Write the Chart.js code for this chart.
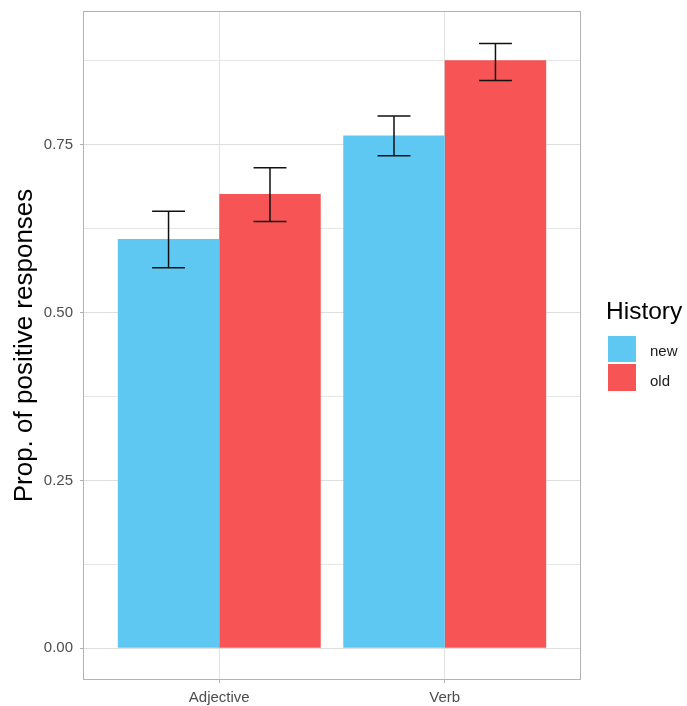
<!DOCTYPE html>
<html>
<head>
<meta charset="utf-8">
<script src="https://cdn.jsdelivr.net/npm/chart.js@4/dist/chart.umd.min.js"></script>
<style>
  html, body { margin: 0; padding: 0; background: #ffffff; }
  #wrap { position: relative; width: 687px; height: 706px; font-family: "Liberation Sans", Arial, sans-serif; }
  #chart { position: absolute; left: 0; top: 0; }
  .legend-title { position: absolute; left: 606px; top: 299px; font-size: 24.5px; line-height: 24.5px; color: #000; white-space: nowrap; }
  .legend-key { position: absolute; left: 608px; width: 28px; }
  .legend-label { position: absolute; left: 650px; font-size: 15px; line-height: 15px; color: #1a1a1a; white-space: nowrap; }
</style>
</head>
<body>
<div id="wrap">
  <canvas id="chart" width="687" height="706"></canvas>
  <div id="legend"></div>
</div>
<script>
// Word class on the x axis, response history as the two bar series
const categories = ['Adjective', 'Verb'];
const seriesNames = ['new', 'old'];
const seriesColors = ['#5ec8f2', '#f75555'];

// Mean proportion of positive responses
const newValues = [0.610, 0.764];
const oldValues = [0.677, 0.876];

// Error bar limits
const newLow  = [0.567, 0.734];
const newHigh = [0.651, 0.793];
const oldLow  = [0.636, 0.846];
const oldHigh = [0.716, 0.901];

// Y axis tick labels (major breaks)
const yTickLabels = ['0.00', '0.25', '0.50', '0.75'];

const lows = [newLow, oldLow];
const highs = [newHigh, oldHigh];
const values = [newValues, oldValues];

const isMajor = v => Math.abs(v / 0.25 - Math.round(v / 0.25)) < 1e-6;

const errorBars = {
  id: 'errorBars',
  afterDatasetsDraw(chart) {
    const ctx = chart.ctx;
    const xs = chart.scales.x, ys = chart.scales.y;
    const half = xs.getPixelForValue(1.073) - xs.getPixelForValue(1);
    ctx.save();
    ctx.strokeStyle = '#111111';
    ctx.lineWidth = 1.5;
    chart.data.datasets.forEach((ds, d) => {
      const meta = chart.getDatasetMeta(d);
      meta.data.forEach((bar, i) => {
        const x = bar.x;
        const yl = ys.getPixelForValue(lows[d][i]);
        const yh = ys.getPixelForValue(highs[d][i]);
        ctx.beginPath();
        ctx.moveTo(x, yl); ctx.lineTo(x, yh);
        ctx.moveTo(x - half, yl); ctx.lineTo(x + half, yl);
        ctx.moveTo(x - half, yh); ctx.lineTo(x + half, yh);
        ctx.stroke();
      });
    });
    ctx.restore();
  }
};

const panelBorder = {
  id: 'panelBorder',
  afterDatasetsDraw(chart) {
    const {left, top, right, bottom} = chart.chartArea;
    const ctx = chart.ctx;
    ctx.save();
    ctx.strokeStyle = '#b3b3b3';
    ctx.lineWidth = 1;
    ctx.strokeRect(Math.round(left) - 0.5, Math.round(top) - 0.5, Math.round(right - left) + 1, Math.round(bottom - top) + 1);
    ctx.restore();
  }
};

new Chart(document.getElementById('chart'), {
  type: 'bar',
  data: {
    datasets: seriesNames.map((name, d) => ({
      label: name,
      data: values[d].map((v, i) => ({x: i + 1, y: v})),
      backgroundColor: seriesColors[d],
      borderWidth: 0,
      categoryPercentage: 0.9,
      barPercentage: 1.0
    }))
  },
  options: {
    responsive: false,
    animation: false,
    layout: { padding: { top: 12, right: 107, left: 0, bottom: 0 } },
    plugins: { legend: { display: false }, tooltip: { enabled: false } },
    scales: {
      x: {
        type: 'linear',
        min: 0.4,
        max: 2.6,
        offset: false,
        afterBuildTicks: s => { s.ticks = categories.map((c, i) => ({value: i + 1})); },
        afterFit: s => { s.height = 27; s.paddingLeft = 0; s.paddingRight = 0; },
        ticks: {
          autoSkip: false,
          maxRotation: 0,
          padding: 6,
          color: '#4d4d4d',
          font: { family: '"Liberation Sans", Arial, sans-serif', size: 15 },
          callback: v => categories[Math.round(v) - 1]
        },
        grid: { offset: false, color: '#e0e0e0', lineWidth: 1, tickLength: 4, tickColor: '#b3b3b3' },
        border: { display: false }
      },
      y: {
        type: 'linear',
        min: -0.0457,
        max: 0.948,
        afterFit: s => { s.width = 84; s.paddingTop = 0; s.paddingBottom = 0; },
        ticks: {
          stepSize: 0.125,
          includeBounds: false,
          padding: 7,
          color: '#4d4d4d',
          font: { family: '"Liberation Sans", Arial, sans-serif', size: 15 },
          callback: v => isMajor(v) ? yTickLabels[Math.round(v / 0.25)] : ''
        },
        grid: {
          color: ctx => ctx.tick && isMajor(ctx.tick.value) ? '#dedede' : '#e6e6e6',
          lineWidth: 1,
          tickLength: 4,
          tickColor: ctx => ctx.tick && isMajor(ctx.tick.value) ? '#b3b3b3' : 'rgba(0,0,0,0)'
        },
        border: { display: false },
        title: {
          display: true,
          text: 'Prop. of positive responses',
          color: '#000000',
          font: { family: '"Liberation Sans", Arial, sans-serif', size: 26 },
          padding: { top: 9, bottom: 0 }
        }
      }
    }
  },
  plugins: [errorBars, panelBorder]
});

// Legend for the History fill
const legend = document.getElementById('legend');
const title = document.createElement('div');
title.className = 'legend-title';
title.textContent = 'History';
legend.appendChild(title);
const keyTops = [336, 364];
const keyHeights = [26, 27];
const labelTops = [343, 372.5];
seriesNames.forEach((name, d) => {
  const key = document.createElement('div');
  key.className = 'legend-key';
  key.style.top = keyTops[d] + 'px';
  key.style.height = keyHeights[d] + 'px';
  key.style.background = seriesColors[d];
  legend.appendChild(key);
  const lab = document.createElement('div');
  lab.className = 'legend-label';
  lab.style.top = labelTops[d] + 'px';
  lab.textContent = name;
  legend.appendChild(lab);
});
</script>
</body>
</html>
